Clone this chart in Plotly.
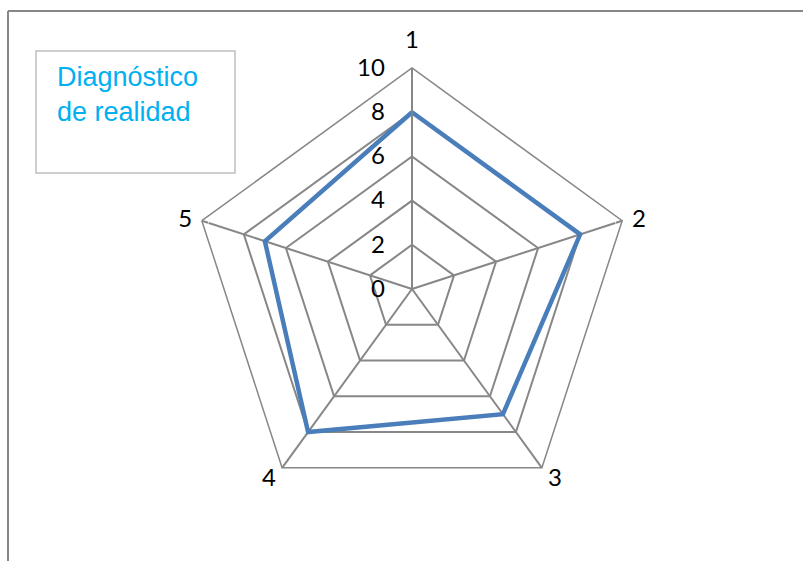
import plotly.graph_objects as go

# Radar data: five criteria scored on a 0-10 scale
categories = ["1", "2", "3", "4", "5"]
scores = [8, 8, 7, 8, 7]
series_name = "Diagnóstico de realidad"
radial_ticks = [0, 2, 4, 6, 8, 10]
r_max = 10

# Placement of the category labels around the outer ring
label_positions = ["top center", "middle right", "bottom right", "bottom left", "middle left"]
label_gap = [21, 14, 0, 0, 14]
NBSP = "\u00a0"
label_text = [
    categories[0],
    categories[1],
    NBSP + categories[2],
    categories[3] + NBSP,
    categories[4],
]

W, H = 803, 561
GRID = "#878787"
TICK_FONT = dict(family="Lato, Carlito, Calibri, sans-serif", size=24, color="#000000")


def px(x):
    return x / W


def py(y):
    return 1 - y / H


fig = go.Figure()
fig.add_trace(go.Scatterpolar(
    r=scores + scores[:1],
    theta=categories + categories[:1],
    mode="lines",
    name=series_name,
    line=dict(color="#4A7EBB", width=4.5),
    showlegend=False,
    hoverinfo="r+theta",
))

# Category labels drawn at the outer ring
fig.add_trace(go.Scatterpolar(
    r=[r_max] * len(categories),
    theta=categories,
    mode="markers+text",
    text=label_text,
    textposition=label_positions,
    textfont=TICK_FONT,
    marker=dict(size=label_gap, color="rgba(0,0,0,0)"),
    cliponaxis=False,
    showlegend=False,
    hoverinfo="skip",
))

cx, cy, R = 412, 289, 221
fig.update_layout(
    width=W, height=H,
    margin=dict(l=0, r=0, t=0, b=0),
    paper_bgcolor="white",
    plot_bgcolor="white",
    polar=dict(
        domain=dict(x=[px(cx - R), px(cx + R)], y=[py(cy + R), py(cy - R)]),
        gridshape="linear",
        bgcolor="white",
        angularaxis=dict(
            type="category",
            categoryorder="array",
            categoryarray=categories,
            direction="clockwise",
            rotation=90,
            showline=True,
            linecolor=GRID,
            linewidth=1.5,
            gridcolor=GRID,
            gridwidth=1.5,
            ticks="",
            showticklabels=False,
        ),
        radialaxis=dict(
            range=[0, r_max],
            tickvals=radial_ticks,
            ticktext=[str(v) for v in radial_ticks],
            angle=90,
            tickangle=90,
            side="counterclockwise",
            showline=True,
            linecolor=GRID,
            linewidth=1.5,
            gridcolor=GRID,
            gridwidth=1.5,
            ticks="outside",
            ticklen=18,
            tickcolor="rgba(0,0,0,0)",
            tickfont=TICK_FONT,
        ),
    ),
)

# Chart frame (top and left edges visible within the page)
fig.add_shape(type="line", xref="paper", yref="paper",
              x0=px(8), y0=py(11), x1=px(W + 5), y1=py(11),
              line=dict(color="#878787", width=2))
fig.add_shape(type="line", xref="paper", yref="paper",
              x0=px(8), y0=py(11), x1=px(8), y1=py(H + 5),
              line=dict(color="#878787", width=2))

# Series label box
fig.add_shape(type="rect", xref="paper", yref="paper",
              x0=px(36), y0=py(51), x1=px(235), y1=py(173),
              line=dict(color="#BFBFBF", width=1.5), fillcolor="white")
fig.add_annotation(
    xref="paper", yref="paper", x=px(55), y=py(60),
    xanchor="left", yanchor="top", align="left",
    text="Diagnóstico<br>de realidad", showarrow=False,
    font=dict(family="Liberation Sans, Arial, sans-serif", size=27, color="#00B0F0"),
)

fig.write_html("out.html")
